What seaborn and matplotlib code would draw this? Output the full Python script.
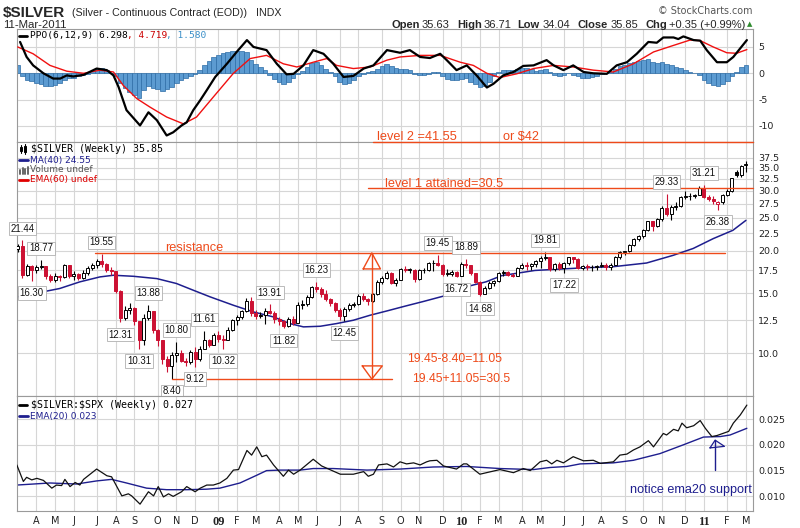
import numpy as np
import pandas as pd
import matplotlib
matplotlib.use("Agg")
import matplotlib.pyplot as plt
from matplotlib.lines import Line2D
from matplotlib.ticker import FixedLocator, FixedFormatter, NullLocator
import seaborn as sns

# ------------------------------------------------------------------ data
first_week_end = "2008-03-14"   # weekly bars, one per week

opens = [20.20, 20.60, 17.00, 18.00, 17.50, 17.90, 18.00, 16.80, 16.40, 16.80,
         16.70, 18.10, 16.90, 17.10, 16.60, 17.20, 17.80, 18.20, 18.70, 18.30,
         17.60, 17.40, 15.20, 12.70, 13.40, 13.60, 12.40, 10.90, 12.70, 13.30,
         11.70, 10.90, 9.60, 9.20, 9.90, 10.00, 9.50, 9.40, 10.10, 9.60,
         10.30, 10.90, 10.60, 11.30, 11.00, 10.90, 11.70, 12.50, 12.80, 13.30,
         14.20, 13.10, 12.90, 12.95, 13.30, 13.10, 12.60, 12.40, 12.00, 12.60,
         12.30, 13.90, 13.95, 14.60, 15.60, 15.40, 14.90, 14.40, 14.00, 13.40,
         12.90, 13.50, 13.90, 13.95, 14.70, 14.40, 14.20, 14.90, 16.20, 16.60,
         17.20, 16.10, 16.40, 17.70, 17.60, 17.60, 16.50, 17.50, 17.50, 18.40,
         18.40, 18.20, 17.10, 17.10, 17.30, 16.90, 18.30, 18.10, 17.20, 16.20,
         14.90, 15.50, 16.10, 16.30, 17.20, 17.30, 17.00, 16.90, 17.80, 18.20,
         18.00, 18.30, 18.60, 19.00, 19.20, 17.70, 18.30, 17.80, 18.40, 19.10,
         18.90, 17.80, 18.00, 17.90, 17.90, 18.00, 18.10, 17.90, 18.20, 19.10,
         19.80, 19.90, 20.80, 21.60, 22.10, 23.00, 24.40, 23.60, 24.70, 26.70,
         25.60, 26.90, 27.00, 28.80, 28.90, 28.90, 29.20, 30.60, 28.80, 28.40,
         27.50, 27.80, 29.10, 30.00, 34.00, 33.30, 35.63]
highs = [20.90, 21.44, 18.30, 18.10, 18.20, 18.77, 18.00, 17.10, 17.20, 17.00,
         18.30, 18.20, 17.40, 17.20, 17.50, 18.00, 18.40, 18.90, 19.55, 18.40,
         17.90, 17.40, 15.30, 13.80, 14.00, 13.70, 12.40, 13.00, 13.88, 13.30,
         11.80, 10.90, 9.80, 10.10, 10.80, 10.20, 9.70, 10.20, 10.40, 10.50,
         11.61, 11.00, 11.50, 11.60, 11.30, 11.90, 12.60, 12.95, 13.40, 14.50,
         14.60, 13.40, 13.20, 13.60, 13.91, 13.30, 12.80, 12.50, 12.80, 12.90,
         14.10, 14.30, 14.80, 15.70, 16.23, 15.60, 15.30, 14.50, 14.10, 13.60,
         13.70, 14.00, 14.10, 14.90, 15.00, 14.50, 15.00, 16.40, 16.80, 17.40,
         17.30, 16.60, 17.80, 18.00, 17.80, 17.70, 17.70, 17.80, 18.50, 18.80,
         19.45, 18.30, 17.70, 17.50, 17.40, 18.50, 18.89, 18.20, 17.20, 16.30,
         15.70, 16.30, 16.40, 17.30, 17.50, 17.40, 17.20, 17.90, 18.40, 18.50,
         18.40, 18.80, 19.30, 19.81, 19.20, 18.40, 18.50, 18.50, 19.20, 19.20,
         19.00, 18.20, 18.30, 18.10, 18.20, 18.50, 18.40, 18.40, 19.30, 19.90,
         20.00, 20.90, 21.80, 22.20, 23.20, 24.50, 24.50, 24.90, 27.00, 29.33,
         27.20, 27.80, 29.00, 30.00, 29.50, 29.40, 31.00, 31.21, 29.20, 29.00,
         28.00, 29.40, 30.30, 32.70, 34.60, 35.70, 36.71]
lows = [19.80, 16.60, 16.80, 16.30, 17.20, 17.70, 16.50, 16.20, 16.20, 16.30,
        16.60, 16.60, 16.40, 16.40, 16.50, 17.00, 17.60, 17.80, 17.90, 17.30,
        17.00, 15.00, 12.31, 12.50, 13.00, 12.10, 10.31, 10.60, 12.50, 11.50,
        10.50, 9.30, 8.80, 8.40, 9.40, 9.40, 9.20, 9.30, 9.12, 9.50,
        10.30, 10.40, 10.60, 10.80, 10.32, 10.90, 11.60, 12.10, 12.60, 13.20,
        12.90, 12.60, 12.70, 12.20, 13.00, 12.30, 12.10, 11.82, 11.90, 12.10,
        12.30, 13.50, 13.80, 14.50, 15.10, 14.60, 14.20, 13.80, 13.20, 12.50,
        12.45, 13.30, 13.70, 13.90, 14.20, 13.90, 14.10, 14.80, 16.00, 16.50,
        16.00, 15.80, 16.40, 17.30, 17.20, 16.20, 16.40, 17.20, 17.40, 17.40,
        18.00, 16.90, 16.90, 16.90, 16.72, 16.80, 17.80, 17.00, 16.10, 14.68,
        14.90, 15.40, 15.70, 16.20, 16.90, 16.80, 16.70, 16.90, 17.70, 17.60,
        17.60, 17.90, 17.80, 18.80, 17.40, 17.40, 17.60, 17.22, 18.20, 18.40,
        17.70, 17.50, 17.60, 17.40, 17.50, 17.90, 17.60, 17.60, 18.20, 18.90,
        19.40, 19.80, 20.70, 21.40, 21.80, 22.90, 22.90, 23.40, 24.50, 25.30,
        24.60, 26.40, 26.80, 28.40, 28.20, 28.60, 29.10, 28.50, 28.00, 27.50,
        26.38, 27.50, 28.90, 29.80, 32.80, 33.00, 34.04]
closes = [20.60, 17.00, 18.00, 17.50, 17.90, 18.00, 16.80, 16.40, 16.80, 16.70,
          18.10, 16.90, 17.10, 16.60, 17.20, 17.80, 18.20, 18.70, 18.30, 17.60,
          17.40, 15.20, 12.70, 13.40, 13.60, 12.40, 10.90, 12.70, 13.30, 11.70,
          10.90, 9.60, 9.20, 9.90, 10.00, 9.50, 9.40, 10.10, 9.60, 10.30,
          10.90, 10.60, 11.30, 11.00, 10.90, 11.70, 12.50, 12.80, 13.30, 14.20,
          13.10, 12.90, 12.95, 13.30, 13.10, 12.60, 12.40, 12.00, 12.60, 12.30,
          13.90, 13.95, 14.60, 15.60, 15.40, 14.90, 14.40, 14.00, 13.40, 12.90,
          13.50, 13.90, 13.95, 14.70, 14.40, 14.20, 14.90, 16.20, 16.60, 17.20,
          16.10, 16.40, 17.70, 17.60, 17.60, 16.50, 17.50, 17.50, 18.40, 18.40,
          18.20, 17.10, 17.10, 17.30, 16.90, 18.30, 18.10, 17.20, 16.20, 14.90,
          15.50, 16.10, 16.30, 17.20, 17.30, 17.00, 16.90, 17.80, 18.20, 18.00,
          18.30, 18.60, 19.00, 19.20, 17.70, 18.30, 17.80, 18.40, 19.10, 18.90,
          17.80, 18.00, 17.90, 17.90, 18.00, 18.10, 17.90, 18.20, 19.10, 19.80,
          19.90, 20.80, 21.60, 22.10, 23.00, 24.40, 23.60, 24.70, 26.70, 25.60,
          26.90, 27.00, 28.80, 28.90, 28.90, 29.20, 30.60, 28.80, 28.40, 28.00,
          27.80, 29.10, 30.00, 32.60, 33.30, 35.50, 35.85]

# 40-week moving average (bar index, price)
ma40_idx = [0, 9, 13.3, 17.6, 20.5, 24.8, 29.8, 34, 37.6, 41.2, 46.2, 50.5, 54.8,
            58.3, 61.2, 64.8, 68.3, 71.9, 75.5, 79, 83, 87, 91.9, 95.5, 100.3, 103.7,
            110.8, 120.8, 127.6, 134.7, 140.4, 144.7, 149, 153.2, 156]
ma40_val = [14.64, 15.49, 16.20, 16.75, 16.94, 16.82, 16.56, 16.02, 15.31, 14.64,
            13.83, 13.22, 12.78, 12.22, 11.95, 12.00, 12.22, 12.50, 12.93, 13.30,
            13.75, 14.20, 14.80, 15.60, 16.20, 16.90, 17.50, 17.80, 17.95, 18.40,
            19.38, 20.30, 21.70, 22.95, 24.55]

# PPO(6,12,9) line
ppo_idx = [0.5, 1.9, 3.3, 5.5, 7.6, 9.1, 10.5, 11.9, 14.1, 16.9, 19.1, 20.5, 21.6,
           23.3, 26.2, 28.0, 29.8, 31.9, 33.3, 35.1, 36.2, 37.6, 39.1, 40.5, 42.3,
           44.8, 46.9, 49.1, 50.5, 53.3, 55.5, 57.6, 59.1, 61.2, 63.3, 65.5, 67.6,
           69.8, 71.9, 74.1, 76.2, 79.1, 81.9, 84.0, 86.2, 88.3, 90.5, 91.9, 94.0,
           96.2, 98.3, 100.5, 101.9, 104.0, 106.2, 108.3, 110.5, 113.3, 114.8,
           116.9, 119.0, 121.2, 123.3, 126.2, 128.3, 130.5, 132.6, 135.1, 136.9,
           138.3, 140.5, 141.5, 142.6, 144.8, 146.2, 147.6, 149.8, 151.9, 153.3, 156.2]
ppo_val = [5.95, 3.1, 1.5, 0.0, -1.0, -1.0, -0.4, -0.6, -0.3, 0.9, 0.6, -0.4, -2.6,
           -7.0, -9.9, -7.4, -8.9, -11.8, -11.2, -9.9, -9.3, -7.0, -5.1, -3.2, -0.7,
           1.8, 4.05, 6.3, 5.0, 4.4, 1.8, -0.2, -0.1, 1.5, 4.4, 3.7, 1.8,
           -0.7, -0.5, 0.9, 1.5, 4.4, 3.9, 4.4, 3.1, 2.9, 3.7, 2.5, 0.6,
           1.5, -0.4, -2.7, -2.0, -0.4, 0.25, 1.4, 1.5, 2.5, 1.5,
           0.6, 1.5, 0.25, 0.0, -0.1, 1.5, 2.1, 3.7, 5.95, 5.8,
           6.8, 6.8, 6.5, 7.0, 6.3, 6.2, 4.4, 2.1, 2.1, 3.1, 6.3]
# signal line
sig_idx = [0, 3.3, 6.9, 10.5, 14.1, 17.6, 20.5, 22.6, 25.5, 28.3, 31.9, 35.5, 38.3,
           41.9, 46.2, 49.8, 53.3, 56.9, 59.8, 63.3, 66.2, 68.3, 71.9, 75.5, 79.1,
           81.9, 86.2, 90.5, 94.8, 97.6, 100.5, 103.3, 106.9, 110.5, 114.8, 119.0,
           123.3, 127.6, 131.9, 136.2, 140.5, 144.0, 146.2, 149.0, 151.9, 154.0, 156.2]
sig_val = [5.0, 3.7, 1.5, 0.4, 0.0, 0.6, 0.25, -2.3, -4.8, -6.4, -8.3, -9.6, -8.3,
           -4.5, 0.0, 2.8, 3.4, 1.8, 1.2, 2.1, 2.8, 1.5, 0.9, 1.2, 2.5,
           3.1, 3.4, 3.4, 2.1, 1.5, 0.0, -0.8, -0.1, 0.9, 1.5, 1.2,
           0.6, 0.25, 1.8, 4.05, 5.3, 6.3, 6.2, 5.0, 3.9, 3.8, 4.5]
# histogram (one value per weekly bar)
hist_val = [1.5, -0.5, -1.2, -1.5, -1.8, -2.0, -2.4, -2.5, -2.2, -1.8,
            -1.2, -0.9, -0.8, -0.6, -0.4, -0.2, 0.4, 0.8, 1.0, 0.6,
            0.1, -0.6, -1.8, -2.8, -3.6, -4.2, -4.6, -3.2, -2.5, -2.8,
            -2.9, -3.3, -3.0, -2.6, -1.8, -1.2, -0.8, -0.5, -0.1, 0.6,
            1.5, 2.3, 3.0, 3.5, 3.9, 4.1, 4.2, 4.3, 4.2, 4.0,
            2.6, 1.7, 1.2, 0.6, -0.4, -1.1, -1.7, -2.0, -1.6, -0.9,
            -0.2, 0.4, 1.2, 2.0, 2.1, 1.5, 0.9, 0.3, -0.6, -1.6,
            -2.0, -1.8, -1.2, -0.6, -0.1, 0.3, 0.5, 0.9, 1.3, 1.8,
            1.4, 1.0, 0.8, 0.8, 0.6, -0.2, -0.3, -0.3, -0.1, 0.2,
            0.2, -0.6, -1.1, -1.3, -1.3, -1.0, -0.8, -1.6, -2.1, -2.6,
            -2.5, -1.6, -0.6, 0.3, 0.6, 0.7, 0.7, 0.9, 1.0, 1.0,
            0.8, 0.5, 0.6, 0.9, 0.2, -0.3, -0.5, -0.4, 0.1, -0.3,
            -0.6, -0.8, -0.8, -0.7, -0.5, -0.2, 0.0, 0.3, 0.9, 1.3,
            1.6, 1.9, 2.2, 2.4, 2.6, 2.7, 2.2, 2.0, 2.2, 1.8,
            1.5, 1.2, 1.0, 0.6, 0.3, 0.1, -0.3, -1.2, -1.9, -2.3,
            -2.5, -2.1, -1.4, -0.6, 0.3, 1.1, 1.58]

# $SILVER:$SPX ratio and its EMA(20)
ratio_idx = [-0.2, 1.2, 1.9, 3.0, 4.1, 5.5, 7.3, 8.3, 9.4, 10.1, 11.2, 12.3, 13.3, 14.1,
             16.9, 19.1, 20.1, 22.3, 23.7, 24.4, 26.2, 28.0, 29.1, 30.1, 31.2, 32.3,
             33.3, 35.1, 36.2, 38.0, 39.1, 40.5, 41.9, 43.3, 44.8, 46.2, 47.3, 49.1,
             50.1, 51.2, 52.3, 53.3, 54.8, 56.9, 58.0, 59.1, 60.5, 63.3, 65.1, 69.1,
             71.9, 74.1, 75.1, 76.2, 77.3, 79.1, 80.5, 81.9, 83.3, 84.8, 86.2, 87.6,
             88.3, 89.8, 91.2, 94.0, 95.5, 96.2, 99.0, 103.3, 106.2, 108.3, 109.8,
             111.9, 113.3, 114.4, 115.5, 116.9, 119.0, 121.2, 123.3, 124.8, 127.6,
             129.0, 130.5, 131.9, 133.3, 135.1, 136.2, 138.3, 139.0, 140.5, 141.5,
             142.3, 143.3, 144.8, 146.2, 147.3, 148.7, 149.8, 152.3, 153.3, 154.8, 156.2]
ratio_val = [0.0161, 0.0129, 0.0137, 0.0132, 0.0135, 0.0131, 0.0116, 0.0122, 0.0121,
             0.0133, 0.0119, 0.0127, 0.0122, 0.0133, 0.0153, 0.0140, 0.0138, 0.0101,
             0.0105, 0.0101, 0.0085, 0.0109, 0.0101, 0.0119, 0.0099, 0.0105, 0.0100,
             0.0109, 0.0119, 0.0109, 0.0116, 0.0122, 0.0122, 0.0126, 0.0135, 0.0151,
             0.0152, 0.0189, 0.0180, 0.0196, 0.0177, 0.0180, 0.0161, 0.0139, 0.0151,
             0.0143, 0.0151, 0.0172, 0.0159, 0.0143, 0.0143, 0.0148, 0.0139, 0.0143,
             0.0161, 0.0163, 0.0157, 0.0167, 0.0163, 0.0165, 0.0161, 0.0167, 0.0169,
             0.0170, 0.0159, 0.0153, 0.0163, 0.0163, 0.0143, 0.0152, 0.0146, 0.0154,
             0.0150, 0.0167, 0.0170, 0.0163, 0.0170, 0.0165, 0.0177, 0.0169, 0.0170,
             0.0164, 0.0167, 0.0180, 0.0182, 0.0190, 0.0196, 0.0208, 0.0196, 0.0222,
             0.0219, 0.0230, 0.0227, 0.0242, 0.0233, 0.0237, 0.0247, 0.0232, 0.0216,
             0.0218, 0.0226, 0.0242, 0.0258, 0.0277]
ema20_idx = [-0.2, 6.9, 12.6, 16.9, 20.1, 23.3, 27.6, 31.9, 36.2, 40.5, 43.3, 47.6,
             51.2, 53.3, 56.2, 60.5, 63.3, 67.6, 74.8, 81.9, 89.0, 96.2, 103.3, 110.5,
             114.0, 117.6, 120.5, 127.6, 131.9, 137.6, 142.6, 146.9, 150.5, 152.6, 156.2]
ema20_val = [0.0122, 0.0126, 0.0124, 0.0130, 0.0133, 0.0126, 0.0116, 0.0113, 0.0113,
             0.0114, 0.0116, 0.0126, 0.0141, 0.0150, 0.0151, 0.0151, 0.0154, 0.0154,
             0.0151, 0.0153, 0.0157, 0.0158, 0.0154, 0.0152, 0.0156, 0.0158, 0.0163,
             0.0165, 0.0170, 0.0183, 0.0200, 0.0215, 0.0216, 0.0219, 0.0232]

# labelled swing highs / lows (bar indices)
hi_label_idx = [1, 5, 18, 28, 34, 40, 54, 64, 90, 96, 113, 139, 147]
lo_label_idx = [3, 22, 26, 33, 38, 44, 57, 70, 94, 99, 117, 150]

# hand-drawn levels
level2 = 41.55
level1 = 30.5
resistance = 19.70
bottom_level = 8.40

main_ticks = [10.0, 12.5, 15.0, 17.5, 20.0, 22.5, 25.0, 27.5, 30.0, 32.5, 35.0, 37.5]
ppo_ticks = [5, 0, -5, -10]
ratio_ticks = [0.010, 0.015, 0.020, 0.025]

# ------------------------------------------------------------------ style
sns.set_theme(style="white")
plt.rcParams['font.family'] = ['DejaVu Sans']
W, H = 800, 528
fig = plt.figure(figsize=(8.0, 5.28), dpi=100)
fig.patch.set_facecolor('white')

def rect(x0, y0, x1, y1):
    return [x0 / W, 1 - y1 / H, (x1 - x0) / W, (y1 - y0) / H]

def ftxt(x, y, s, **kw):
    return fig.text(x / W, 1 - y / H, s, **kw)

def fline(x0, x1, y0, y1, **kw):
    fig.add_artist(Line2D([x0 / W, x1 / W], [1 - y0 / H, 1 - y1 / H],
                          transform=fig.transFigure, **kw))

LEFT, RIGHT = 17, 752.7
ax1 = fig.add_axes(rect(LEFT, 29.3, RIGHT, 142))
ax2 = fig.add_axes(rect(LEFT, 142, RIGHT, 396))
ax3 = fig.add_axes(rect(LEFT, 396, RIGHT, 511))

n = len(closes)
idx = np.arange(n)
fri = pd.date_range(first_week_end, periods=n, freq='7D')
mon = fri - pd.Timedelta(days=4)
mm = mon.month.values
month_idx = [i for i in range(1, n) if mm[i] != mm[i - 1]]
month_lab = [(f"{mon[i].year % 100:02d}" if mm[i] == 1 else mon[i].strftime('%b')[0])
             for i in month_idx]

GRID = '#D6D6D6'
NAVY = '#1E1E8E'
CRED = '#CC1133'
ANN = '#EE4A1A'

for ax in (ax1, ax2, ax3):
    ax.set_facecolor('white')
    ax.set_xlim(-0.16, 157.45)
    ax.set_xticks(month_idx)
    ax.grid(True, color=GRID, lw=0.8)
    ax.set_axisbelow(True)
    for s in ax.spines.values():
        s.set_color('#9A9A9A')
        s.set_linewidth(0.8)
    ax.yaxis.tick_right()
    ax.tick_params(axis='y', which='both', length=0, pad=4, labelsize=6.8,
                   colors='#222222', left=False, right=False,
                   labelleft=False, labelright=True)
    ax.tick_params(axis='x', length=0)
    ax.set_xlabel('')
    ax.set_ylabel('')

# ---------------- PPO panel
ax1.bar(idx, hist_val, width=1.0, color='#5C9BD1', edgecolor='#2D6CA6', lw=0.5, zorder=2)
sns.lineplot(x=sig_idx, y=sig_val, ax=ax1, color='#F01010', lw=1.0, zorder=3)
sns.lineplot(x=ppo_idx, y=ppo_val, ax=ax1, color='black', lw=1.6, zorder=4)
ax1.set_ylim(-13.04, 8.35)
ax1.yaxis.set_major_locator(FixedLocator(ppo_ticks))
ax1.yaxis.set_major_formatter(FixedFormatter([str(t) for t in ppo_ticks]))
ax1.tick_params(axis='x', labelbottom=False)

# ---------------- price panel
ax2.set_yscale('log')
sns.lineplot(x=ma40_idx, y=ma40_val, ax=ax2, color=NAVY, lw=1.1, zorder=2)
o = np.array(opens); c = np.array(closes); h = np.array(highs); l = np.array(lows)
prev = np.concatenate([[o[0]], c[:-1]])
cols = np.where(c >= prev, 'black', CRED)
fills = np.where(c >= o, 'white', cols)
bot = np.minimum(o, c)
top = np.maximum(np.maximum(o, c), bot * 1.003)
ax2.vlines(idx, l, h, colors=cols, lw=0.8, zorder=3)
ax2.bar(idx, top - bot, bottom=bot, width=0.62, color=fills, edgecolor=cols,
        lw=0.7, zorder=4)
ax2.set_ylim(7.49, 41.69)
ax2.yaxis.set_major_locator(FixedLocator(main_ticks))
ax2.yaxis.set_major_formatter(FixedFormatter([f"{t:.1f}" for t in main_ticks]))
ax2.yaxis.set_minor_locator(NullLocator())
ax2.tick_params(axis='x', labelbottom=False)

box = dict(boxstyle='square,pad=0.18', fc='white', ec='#B0B0B0', lw=0.6)
for i in hi_label_idx:
    ax2.annotate(f"{highs[i]:.2f}", xy=(i, highs[i]), xytext=(0, 8.5),
                 textcoords='offset points', ha='center', va='center',
                 fontsize=6.9, color='#111111', bbox=box, zorder=6,
                 family='Liberation Sans')
for i in lo_label_idx:
    ax2.annotate(f"{lows[i]:.2f}", xy=(i, lows[i]), xytext=(0, -8.8),
                 textcoords='offset points', ha='center', va='center',
                 fontsize=6.9, color='#111111', bbox=box, zorder=6,
                 family='Liberation Sans', annotation_clip=False)

# annotations (drawn lines & text)
akw = dict(color=ANN, lw=1.0, zorder=5, clip_on=False)
ax2.plot([76.1, 157.45], [level2, level2], **akw)
ax2.plot([75.0, 157.45], [level1, level1], **akw)
ax2.plot([16.6, 151.5], [resistance, resistance], **akw)
ax2.plot([33.0, 80.2], [bottom_level, bottom_level], **akw)
ax2.plot([75.85, 75.85], [resistance, bottom_level], **akw)
ax2.plot([74.0, 75.85, 77.7, 74.0], [17.68, resistance, 17.68, 17.68], **akw)
ax2.plot([73.8, 75.85, 78.1, 73.8], [9.18, bottom_level, 9.18, 9.18], **akw)
tkw = dict(color=ANN, fontsize=9.2, family='Liberation Sans', va='center',
           ha='left', zorder=7, clip_on=False)
ax2.text(77.0, 43.1, "level 2 =41.55", **tkw)
ax2.text(104.0, 43.1, "or $42", **tkw)
ax2.text(78.7, 31.4, "level 1 attained=30.5", **tkw)
ax2.text(31.6, 20.35, "resistance", **tkw)
ax2.text(83.4, 9.62, "19.45-8.40=11.05", **{**tkw, 'fontsize': 8.8})
ax2.text(84.5, 8.40, "19.45+11.05=30.5", **{**tkw, 'fontsize': 8.8})

# ---------------- ratio panel
sns.lineplot(x=ema20_idx, y=ema20_val, ax=ax3, color=NAVY, lw=1.0, zorder=2)
sns.lineplot(x=ratio_idx, y=ratio_val, ax=ax3, color='#111111', lw=0.9, zorder=3)
ax3.set_ylim(0.00717, 0.02946)
ax3.yaxis.set_major_locator(FixedLocator(ratio_ticks))
ax3.yaxis.set_major_formatter(FixedFormatter([f"{t:.3f}" for t in ratio_ticks]))
ax3.set_xticklabels(month_lab)
ax3.tick_params(axis='x', labelbottom=True, labelsize=7, pad=3.5, colors='#222222')
for lb in ax3.get_xticklabels():
    if lb.get_text().isdigit():
        lb.set_fontweight('bold')
        lb.set_family('Liberation Serif')
        lb.set_fontsize(8.8)
ax3.plot([149.4, 149.4], [0.0151, 0.0209], color=NAVY, lw=1.0)
ax3.plot([148.3, 149.4, 151.4, 148.3], [0.0194, 0.0209, 0.0197, 0.0194], color=NAVY, lw=0.9)
ax3.text(131.2, 0.01124, "notice ema20 support", color=NAVY, fontsize=9.1,
         family='Liberation Sans', va='center', ha='left')

# ---------------- legends inside panels
MONO = 'DejaVu Sans Mono'
fline(19, 27, 35.7, 35.7, color='black', lw=2)
cw = 0.602 * 6.8 * 100 / 72
x0 = 30
for s, col in (("PPO(6,12,9) 6.298", 'black'), (", 4.719", '#CC0000'), (", 1.580", '#3A8FC8')):
    ftxt(x0, 35.7, s, family=MONO, fontsize=6.8, color=col, va='center', ha='left')
    x0 += len(s) * cw

# candle icon
fline(21, 21, 145, 153, color='black', lw=0.8)
fline(25, 25, 144, 154, color='black', lw=0.8)
fig.add_artist(plt.Rectangle((19.8 / W, 1 - 151.5 / H), 2.4 / W, 4.5 / H,
                             transform=fig.transFigure, fc='white', ec='black', lw=0.7))
fig.add_artist(plt.Rectangle((23.8 / W, 1 - 152 / H), 2.4 / W, 6 / H,
                             transform=fig.transFigure, fc='black', ec='black', lw=0.7))
ftxt(31, 149, "$SILVER (Weekly) 35.85", family=MONO, fontsize=7.2, color='black',
     va='center', ha='left')
fline(19, 28, 160, 160, color=NAVY, lw=2)
ftxt(29.5, 160, "MA(40) 24.55", fontsize=6.5, color=NAVY, va='center', ha='left')
for xx, hh in ((20, 4), (22.5, 6), (25, 5), (27.5, 7)):
    fline(xx, xx, 173.5, 173.5 - hh, color='#666666', lw=1.4)
ftxt(29.5, 170, "Volume undef", fontsize=6.5, color='#555555', va='center', ha='left')
fline(19, 28, 180, 180, color='#E00000', lw=2)
ftxt(29.5, 180, "EMA(60) undef", fontsize=6.5, color='#DD0000', va='center', ha='left')

fline(19, 27, 405, 405, color='black', lw=2)
ftxt(31, 405, r"\$SILVER:\$SPX (Weekly) 0.027", family=MONO, fontsize=7.2,
     color='black', va='center', ha='left')
fline(19, 28, 416, 416, color=NAVY, lw=2)
ftxt(29.5, 416, "EMA(20) 0.023", fontsize=6.5, color=NAVY, va='center', ha='left')

# ---------------- header
ftxt(3, 17, "$SILVER", family='Liberation Sans', fontweight='bold', fontsize=11,
     va='baseline', ha='left')
ftxt(72, 16.5, "(Silver - Continuous Contract (EOD))", family='Liberation Sans',
     fontsize=7.7, va='baseline', ha='left')
ftxt(256, 16.5, "INDX", family='Liberation Sans', fontsize=7.7, va='baseline', ha='left')
ftxt(3, 28, "11-Mar-2011", family='Liberation Sans', fontsize=8.2, va='baseline', ha='left')
ftxt(753, 14, "\u00a9 StockCharts.com", fontsize=6.9, color='#555555',
     va='baseline', ha='right')
hdr = [(391, "Open", True), (422, "35.63", False), (457, "High", True),
       (484, "36.71", False), (517, "Low", True), (543, "34.04", False),
       (578, "Close", True), (611, "35.85", False), (646, "Chg", True),
       (669, "+0.35 (+0.99%)", False)]
for xx, s, b in hdr:
    ftxt(xx, 28, s, family='Liberation Sans', fontsize=8.0,
         fontweight='bold' if b else 'normal', va='baseline', ha='left')
ftxt(750, 24.5, "\u25b2", fontsize=5, color='#2E8B2E', va='center', ha='center')

fig.savefig("out.png", dpi=100, facecolor='white')
